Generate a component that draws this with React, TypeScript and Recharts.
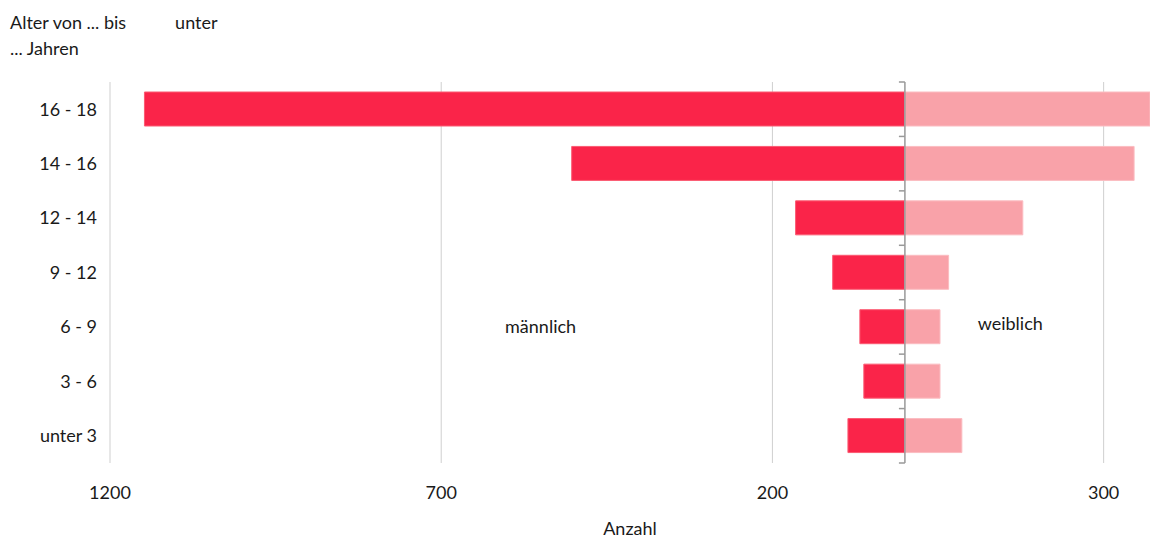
import { Bar, BarChart, CartesianGrid, ReferenceDot, ReferenceLine, XAxis, YAxis } from "recharts";

const ageGroups = ["16 - 18", "14 - 16", "12 - 14", "9 - 12", "6 - 9", "3 - 6", "unter 3"];
const maleCounts = [1148, 503, 165, 109, 68, 62, 86];
const femaleCounts = [380, 346, 178, 66, 53, 53, 86];
const xTicks = [-1200, -700, -200, 300];
const xDomain = [-1200, 370];

const data = ageGroups.map((group, i) => ({
  group,
  male: -maleCounts[i],
  female: femaleCounts[i],
}));

const FONT = "Lato, 'Noto Sans', sans-serif";
const TEXT = "#1a1a1a";

// grid only on the given ticks, not on the domain edge
const gridX = ({ xAxis, offset }: any) =>
  xTicks.map((t) =>
    xAxis && typeof xAxis.scale === "function"
      ? xAxis.scale(t)
      : offset.left + ((t - xDomain[0]) / (xDomain[1] - xDomain[0])) * offset.width
  );

// zero line with little ticks on the category boundaries
const ZeroAxis = (props: any) => {
  const { x1, y1, y2 } = props;
  const step = (y2 - y1) / ageGroups.length;
  const marks = [];
  for (let i = 0; i <= ageGroups.length; i++) {
    const y = y1 + step * i;
    marks.push(<line key={i} x1={x1 - 6} x2={x1} y1={y} y2={y} stroke="#999" strokeWidth={1.5} />);
  }
  return (
    <g>
      <line x1={x1} x2={x1} y1={y1} y2={y2} stroke="#999" strokeWidth={1.5} />
      {marks}
    </g>
  );
};

export default function App() {
  return (
    <div
      style={{
        position: "absolute",
        left: 0,
        top: 0,
        width: 1150,
        height: 538,
        overflow: "hidden",
        fontFamily: FONT,
        color: TEXT,
      }}
    >
      <div style={{ position: "absolute", left: 10, top: 9, fontSize: 18, lineHeight: "26px" }}>
        <div>
          Alter von ... bis<span style={{ marginLeft: 49 }}>unter</span>
        </div>
        <div>... Jahren</div>
      </div>
      <BarChart
        width={1150}
        height={538}
        data={data}
        layout="vertical"
        stackOffset="sign"
        barSize={34}
        margin={{ top: 82, right: 0, bottom: 0, left: 8 }}
      >
        <CartesianGrid horizontal={false} stroke="#cfcfcf" strokeWidth={1} verticalCoordinatesGenerator={gridX} />
        <XAxis
          type="number"
          domain={xDomain}
          ticks={xTicks}
          allowDataOverflow
          tickFormatter={(v: number) => String(Math.abs(v))}
          axisLine={false}
          tickLine={false}
          tickMargin={17}
          height={75}
          tick={{ fill: TEXT, fontSize: 18, fontFamily: FONT }}
          label={{ value: "Anzahl", position: "insideBottom", offset: 3, fill: TEXT, fontSize: 18, fontFamily: FONT }}
        />
        <YAxis
          type="category"
          dataKey="group"
          width={102}
          axisLine={false}
          tickLine={false}
          tickMargin={7}
          tick={{ fill: TEXT, fontSize: 18, fontFamily: FONT }}
        />
        <Bar dataKey="male" stackId="a" fill="#fa2449" stroke="#fb5a72" strokeWidth={1} isAnimationActive={false} />
        <Bar dataKey="female" stackId="a" fill="#f9a2a9" stroke="#fbbcc1" strokeWidth={1} isAnimationActive={false} />
        <ReferenceLine x={0} shape={ZeroAxis} />
        <ReferenceDot
          x={-550}
          y="6 - 9"
          r={0}
          label={{ value: "männlich", position: "center", fill: TEXT, fontSize: 18, fontFamily: FONT }}
        />
        <ReferenceDot
          x={159}
          y="6 - 9"
          r={0}
          label={{ value: "weiblich", position: "center", fill: TEXT, fontSize: 18, fontFamily: FONT, dy: -3 }}
        />
      </BarChart>
    </div>
  );
}
